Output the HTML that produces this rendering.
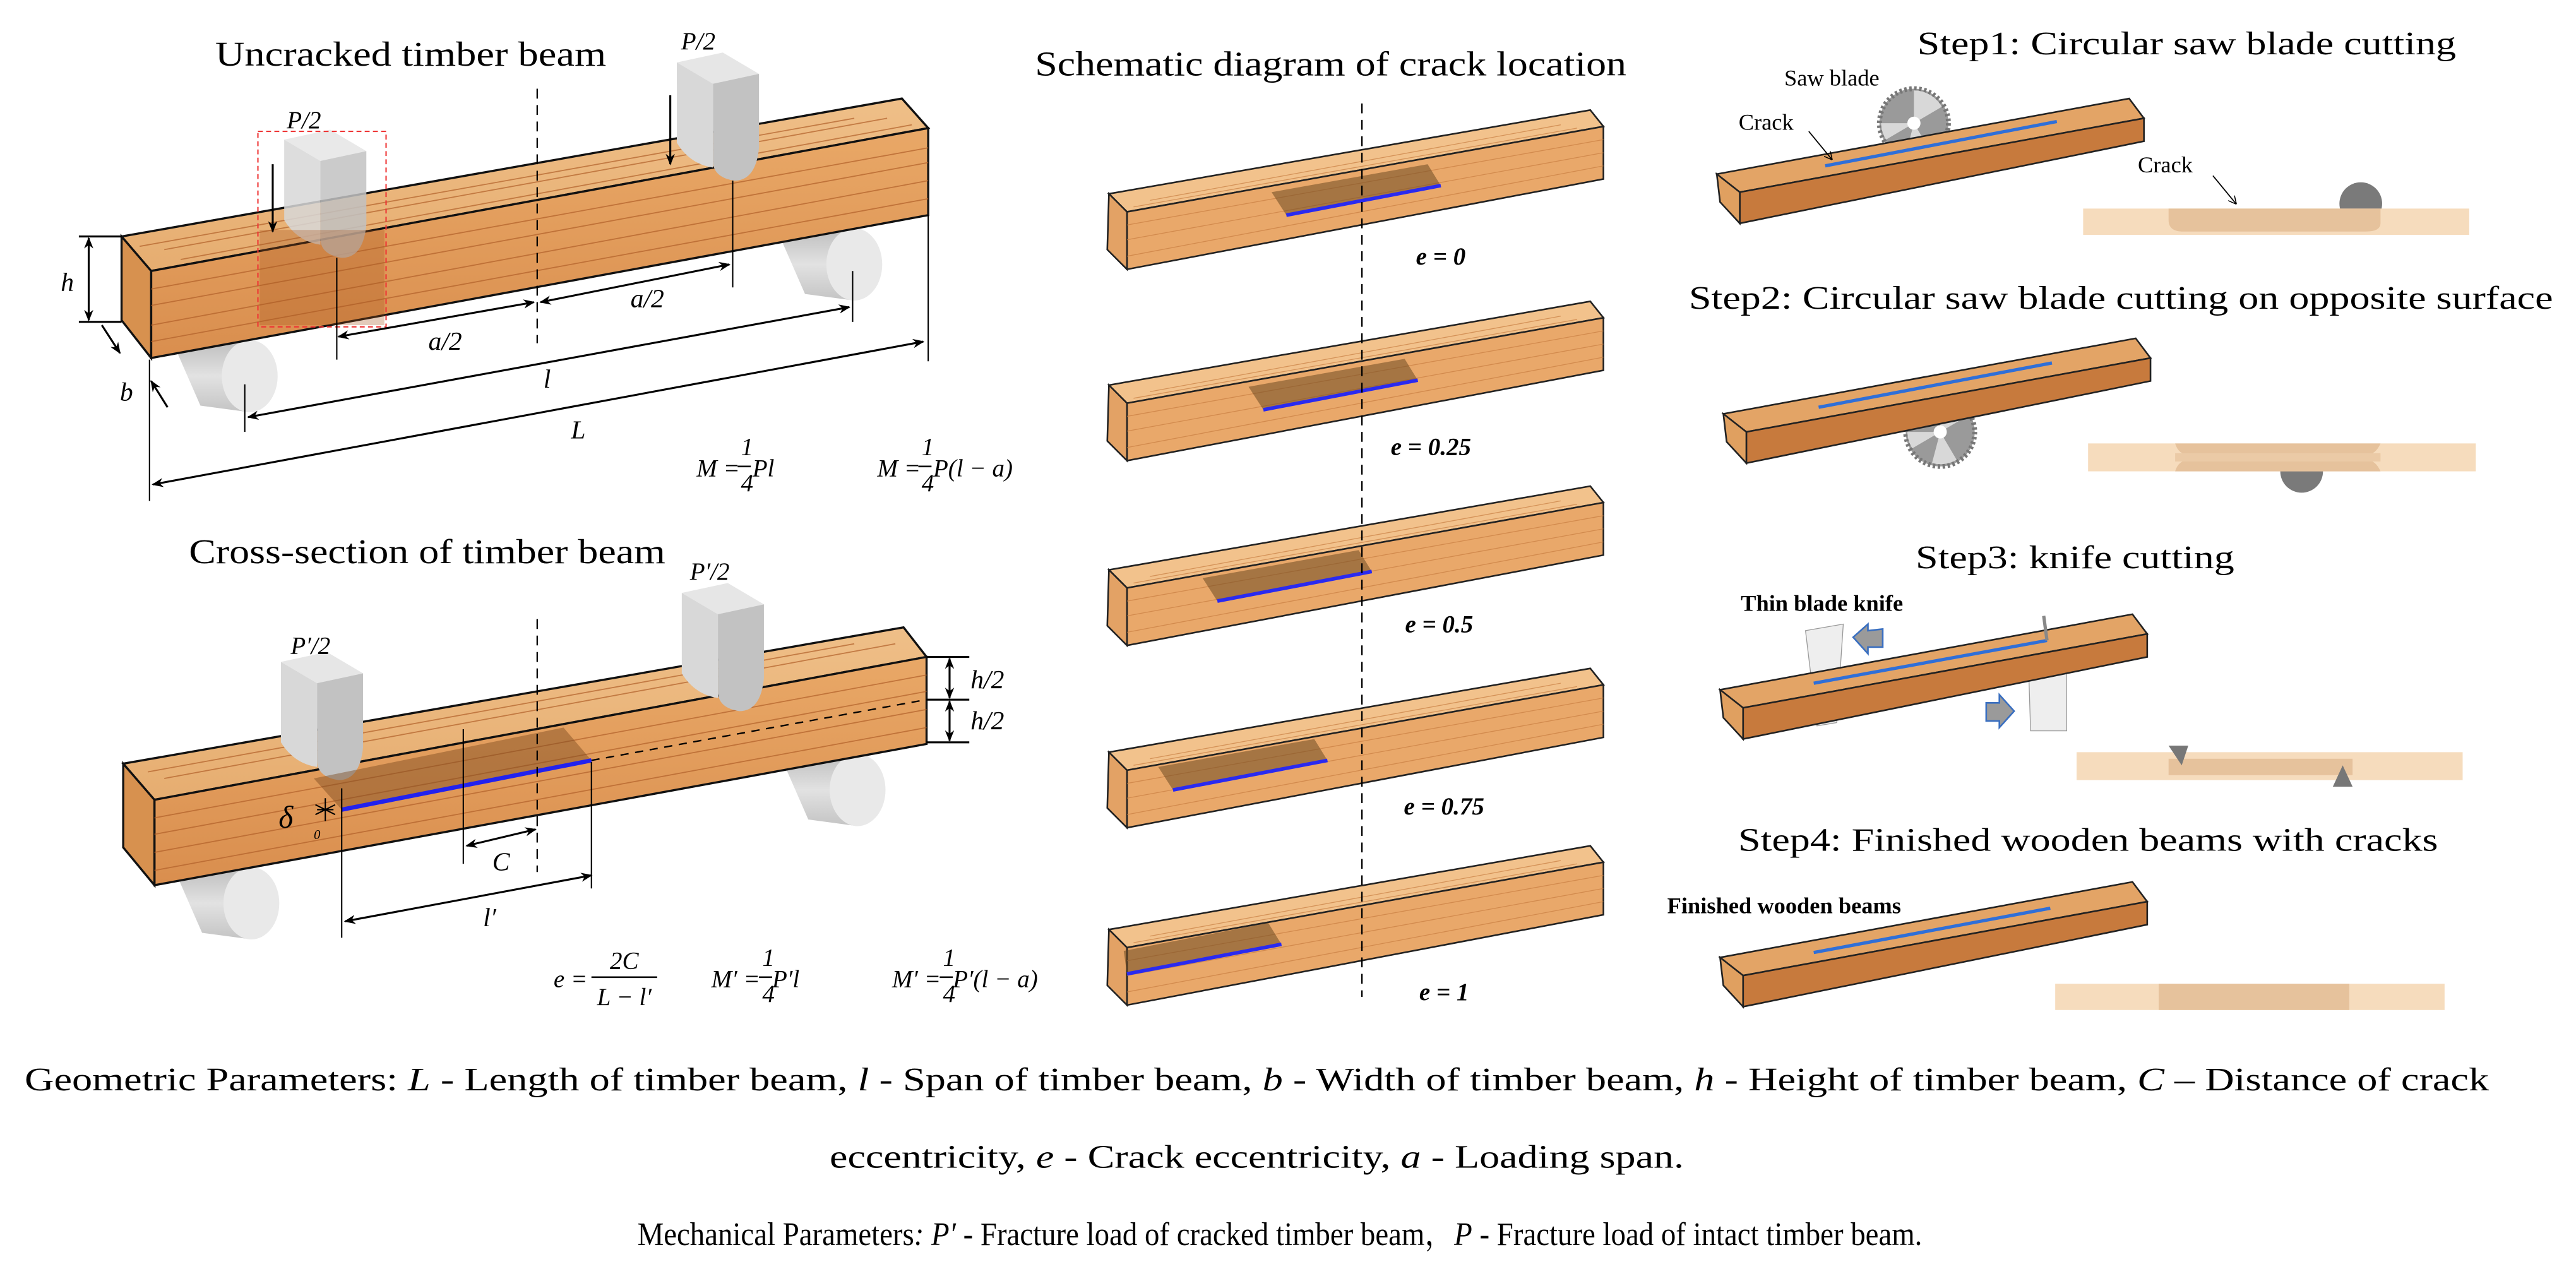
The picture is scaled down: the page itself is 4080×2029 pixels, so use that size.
<!DOCTYPE html>
<html><head><meta charset="utf-8"><style>
html,body{margin:0;padding:0;background:#fff;}
svg{display:block}
.it{font-style:italic}
</style></head><body>
<svg width="4080" height="2029" viewBox="0 0 1568 780" preserveAspectRatio="none" xmlns="http://www.w3.org/2000/svg">
<defs>
<marker id="ar" viewBox="0 0 10 10" refX="9" refY="5" markerWidth="7" markerHeight="7" orient="auto-start-reverse" markerUnits="userSpaceOnUse"><path d="M0,1 L10,5 L0,9 L3,5 Z" fill="#000"/></marker>
<marker id="ars" viewBox="0 0 10 10" refX="9" refY="5" markerWidth="5" markerHeight="5" orient="auto-start-reverse" markerUnits="userSpaceOnUse"><path d="M0,0 L10,5 L0,10" fill="none" stroke="#000" stroke-width="1.2"/></marker>
<linearGradient id="front" x1="0" y1="0" x2="0" y2="1"><stop offset="0" stop-color="#e9a867"/><stop offset="1" stop-color="#d98e4e"/></linearGradient>
<linearGradient id="topf" x1="0" y1="0" x2="0" y2="1"><stop offset="0" stop-color="#efbf88"/><stop offset="1" stop-color="#e6ad70"/></linearGradient>
<linearGradient id="cylg" x1="0" y1="0" x2="0" y2="1"><stop offset="0" stop-color="#bdbdbd"/><stop offset=".5" stop-color="#e2e2e2"/><stop offset="1" stop-color="#c4c4c4"/></linearGradient>
<g id="head">
 <path d="M0,6 L28,0 L50,13 L22,19 Z" fill="#e6e6e6"/>
 <path d="M0,6 L22,19 L22,70 Q8,68 0,55 Z" fill="#d8d8d8"/>
 <path d="M22,19 L50,13 L50,58 Q48,78 35,78 Q22,76 22,66 Z" fill="#c2c2c2"/>
</g>
<g id="cyl">
 <path d="M0,8 L38,0 L44,44 L14,40 Z" fill="url(#cylg)"/>
 <ellipse cx="44" cy="22" rx="17" ry="22" fill="#e9e9e9"/>
</g>
<g id="saw">
 <circle r="21" fill="#9a9a9a" stroke="#777" stroke-width="3" stroke-dasharray="1.5 1.5"/>
 <path d="M0,0 L0,-20 A20,20 0 0 1 17,-10 Z M0,0 L-17,10 A20,20 0 0 1 -20,0 Z M0,0 L10,17 A20,20 0 0 1 -5,19 Z" fill="#d8d8d8"/>
 <circle r="4" fill="#fff"/>
</g>
<g id="mbeam">
 <polygon points="675,118 968,67 976,77 686,129" fill="#f2c28c" stroke="#222" stroke-width="1"/>
 <polygon points="686,129 976,77 976,109 686,164" fill="#e9a86a" stroke="#222" stroke-width="1"/>
 <polygon points="675,118 686,129 686,164 674,152" fill="#e3a265" stroke="#222" stroke-width="1"/>
 <g stroke="#c77d42" stroke-width=".5" opacity=".7" fill="none">
  <path d="M686,137 L976,85 M686,146 L976,93 M686,156 L976,101 M690,126 L960,78 M700,122 L950,76"/>
 </g>
</g>
<g id="rbeam">
 <polygon points="1045,106 1296,60 1305,72 1059,117" fill="#e3a466" stroke="#222" stroke-width="1"/>
 <polygon points="1059,117 1305,72 1305,86 1059,136" fill="#c77a3d" stroke="#222" stroke-width="1"/>
 <polygon points="1045,106 1059,117 1059,136 1047,123" fill="#e0a060" stroke="#222" stroke-width="1"/>
</g>
</defs>

<!-- ========== TOP LEFT ========== -->
<text font-family="Liberation Serif, Noto Serif CJK SC, serif" x="250" y="40" font-size="21" text-anchor="middle" textLength="238" lengthAdjust="spacingAndGlyphs">Uncracked timber beam</text>
<use href="#cyl" transform="translate(108,207)"/>
<use href="#cyl" transform="translate(476,139)"/>
<polygon points="74,144 549,60 565,78 92,165" fill="url(#topf)" stroke="#111" stroke-width="1.3"/>
<polygon points="92,165 565,78 565,131 92,218" fill="url(#front)" stroke="#111" stroke-width="1.3"/>
<polygon points="74,144 92,165 92,218 74,195" fill="#d7914f" stroke="#111" stroke-width="1.3"/>
<g stroke="#b0602a" stroke-width=".7" fill="none" opacity=".7">
<path d="M92,176 L565,90 M92,186 L565,99 M92,198 L565,110 M92,208 L565,121 M100,152 L540,72 M110,158 L555,76 M85,150 L520,72"/>
</g>
<use href="#head" transform="translate(173,79)" opacity=".85"/>
<use href="#head" transform="translate(412,32)"/>
<rect x="158" y="140" width="76" height="58" fill="#a4521a" opacity=".3"/>
<rect x="157" y="80" width="78" height="119" fill="none" stroke="#e33" stroke-width=".8" stroke-dasharray="3 2"/>
<text font-family="Liberation Serif, Noto Serif CJK SC, serif" x="185" y="78" font-size="15" class="it" text-anchor="middle">P/2</text>
<text font-family="Liberation Serif, Noto Serif CJK SC, serif" x="425" y="30" font-size="15" class="it" text-anchor="middle">P/2</text>
<line x1="166" y1="100" x2="166" y2="141" stroke="#000" stroke-width="1.2" marker-end="url(#ar)"/>
<line x1="408" y1="58" x2="408" y2="100" stroke="#000" stroke-width="1.2" marker-end="url(#ar)"/>
<line x1="327" y1="54" x2="327" y2="209" stroke="#000" stroke-width=".9" stroke-dasharray="6 4"/>
<g stroke="#000" stroke-width=".8">
<line x1="205" y1="157" x2="205" y2="219"/><line x1="446" y1="110" x2="446" y2="175"/>
<line x1="519" y1="165" x2="519" y2="196"/><line x1="149" y1="234" x2="149" y2="263"/>
<line x1="91" y1="219" x2="91" y2="305"/><line x1="565" y1="131" x2="565" y2="220"/>
<line x1="48" y1="144" x2="74" y2="144" stroke-width="1.2"/><line x1="48" y1="196" x2="74" y2="196" stroke-width="1.2"/>
</g>
<g stroke="#000" stroke-width="1.2" fill="none">
<line x1="206" y1="205" x2="325" y2="184" marker-start="url(#ar)" marker-end="url(#ar)"/>
<line x1="329" y1="184" x2="444" y2="161" marker-start="url(#ar)" marker-end="url(#ar)"/>
<line x1="151" y1="254" x2="517" y2="187" marker-start="url(#ar)" marker-end="url(#ar)"/>
<line x1="93" y1="295" x2="562" y2="208" marker-start="url(#ar)" marker-end="url(#ar)"/>
<line x1="54" y1="145" x2="54" y2="195" marker-start="url(#ar)" marker-end="url(#ar)"/>
<line x1="62" y1="198" x2="73" y2="215" marker-end="url(#ar)"/>
<line x1="102" y1="248" x2="92" y2="232" marker-end="url(#ar)"/>
</g>
<g font-size="16">
<text font-family="Liberation Serif, Noto Serif CJK SC, serif" x="271" y="213" text-anchor="middle" class="it">a/2</text>
<text font-family="Liberation Serif, Noto Serif CJK SC, serif" x="394" y="187" text-anchor="middle" class="it">a/2</text>
<text font-family="Liberation Serif, Noto Serif CJK SC, serif" x="333" y="236" text-anchor="middle" class="it">l</text>
<text font-family="Liberation Serif, Noto Serif CJK SC, serif" x="352" y="267" text-anchor="middle" class="it">L</text>
<text font-family="Liberation Serif, Noto Serif CJK SC, serif" x="41" y="177" text-anchor="middle" class="it">h</text>
<text font-family="Liberation Serif, Noto Serif CJK SC, serif" x="77" y="244" text-anchor="middle" class="it">b</text>
</g>
<g font-size="15">
<text font-family="Liberation Serif, Noto Serif CJK SC, serif" x="424" y="290" class="it">M =</text><text font-family="Liberation Serif, Noto Serif CJK SC, serif" x="451" y="277" class="it">1</text><line x1="449" y1="284" x2="457" y2="284" stroke="#000"/><text font-family="Liberation Serif, Noto Serif CJK SC, serif" x="451" y="299" class="it">4</text><text font-family="Liberation Serif, Noto Serif CJK SC, serif" x="458" y="290" class="it">Pl</text>
<text font-family="Liberation Serif, Noto Serif CJK SC, serif" x="534" y="290" class="it">M =</text><text font-family="Liberation Serif, Noto Serif CJK SC, serif" x="561" y="277" class="it">1</text><line x1="559" y1="284" x2="567" y2="284" stroke="#000"/><text font-family="Liberation Serif, Noto Serif CJK SC, serif" x="561" y="299" class="it">4</text><text font-family="Liberation Serif, Noto Serif CJK SC, serif" x="568" y="290" class="it">P(l − a)</text>
</g>

<!-- ========== BOTTOM LEFT ========== -->
<text font-family="Liberation Serif, Noto Serif CJK SC, serif" x="260" y="343" font-size="21" text-anchor="middle" textLength="290" lengthAdjust="spacingAndGlyphs">Cross-section of timber beam</text>
<use href="#cyl" transform="translate(109,528)"/>
<use href="#cyl" transform="translate(478,459)"/>
<polygon points="75,465 550,382 564,400 94,487" fill="url(#topf)" stroke="#111" stroke-width="1.3"/>
<polygon points="94,487 564,400 564,453 94,539" fill="url(#front)" stroke="#111" stroke-width="1.3"/>
<polygon points="75,465 94,487 94,539 75,516" fill="#d7914f" stroke="#111" stroke-width="1.3"/>
<g stroke="#b0602a" stroke-width=".7" fill="none" opacity=".7">
<path d="M94,498 L564,411 M94,508 L564,421 M94,519 L564,432 M94,530 L564,443 M100,474 L545,392 M90,470 L520,392"/>
</g>
<use href="#head" transform="translate(171,397)"/>
<use href="#head" transform="translate(415,355)"/>
<polygon points="191,474 343,443 360,463 208,493" fill="#7a4a1e" opacity=".45"/>
<line x1="208" y1="493" x2="360" y2="463" stroke="#2222ee" stroke-width="2.6"/>
<line x1="360" y1="463" x2="564" y2="426" stroke="#000" stroke-width=".9" stroke-dasharray="5 4"/>
<text font-family="Liberation Serif, Noto Serif CJK SC, serif" x="189" y="398" font-size="15" class="it" text-anchor="middle">P′/2</text>
<text font-family="Liberation Serif, Noto Serif CJK SC, serif" x="432" y="353" font-size="15" class="it" text-anchor="middle">P′/2</text>
<line x1="327" y1="377" x2="327" y2="531" stroke="#000" stroke-width=".9" stroke-dasharray="6 4"/>
<g stroke="#000" stroke-width=".8">
<line x1="208" y1="480" x2="208" y2="571"/><line x1="282" y1="444" x2="282" y2="526"/><line x1="360" y1="464" x2="360" y2="541"/>
<line x1="564" y1="400" x2="590" y2="400" stroke-width="1.2"/><line x1="564" y1="426" x2="590" y2="426" stroke-width="1.2"/><line x1="564" y1="452" x2="590" y2="452" stroke-width="1.2"/>
<path d="M192,490 L204,496 M192,496 L204,490 M198,486 L198,500 M193,493 L203,493"/>
</g>
<g stroke="#000" stroke-width="1.2">
<line x1="578" y1="401" x2="578" y2="425" marker-start="url(#ar)" marker-end="url(#ar)"/>
<line x1="578" y1="427" x2="578" y2="451" marker-start="url(#ar)" marker-end="url(#ar)"/>
<line x1="284" y1="515" x2="326" y2="505" marker-start="url(#ar)" marker-end="url(#ar)"/>
<line x1="210" y1="561" x2="360" y2="533" marker-start="url(#ar)" marker-end="url(#ar)"/>
</g>
<text font-family="Liberation Serif, Noto Serif CJK SC, serif" x="601" y="419" font-size="16" class="it" text-anchor="middle">h/2</text>
<text font-family="Liberation Serif, Noto Serif CJK SC, serif" x="601" y="444" font-size="16" class="it" text-anchor="middle">h/2</text>
<text font-family="Liberation Serif, Noto Serif CJK SC, serif" x="305" y="530" font-size="16" class="it" text-anchor="middle">C</text>
<text font-family="Liberation Serif, Noto Serif CJK SC, serif" x="298" y="564" font-size="16" class="it" text-anchor="middle">l′</text>
<text font-family="Liberation Serif, Noto Serif CJK SC, serif" x="174" y="504" font-size="19" class="it" text-anchor="middle">δ</text>
<text font-family="Liberation Serif, Noto Serif CJK SC, serif" x="193" y="511" font-size="8" class="it" text-anchor="middle">0</text>
<g font-size="15">
<text font-family="Liberation Serif, Noto Serif CJK SC, serif" x="337" y="601" class="it">e =</text><text font-family="Liberation Serif, Noto Serif CJK SC, serif" x="380" y="590" class="it" text-anchor="middle">2C</text><line x1="360" y1="595" x2="400" y2="595" stroke="#000"/><text font-family="Liberation Serif, Noto Serif CJK SC, serif" x="380" y="612" class="it" text-anchor="middle">L − l′</text>
<text font-family="Liberation Serif, Noto Serif CJK SC, serif" x="433" y="601" class="it">M′ =</text><text font-family="Liberation Serif, Noto Serif CJK SC, serif" x="464" y="588" class="it">1</text><line x1="462" y1="595" x2="470" y2="595" stroke="#000"/><text font-family="Liberation Serif, Noto Serif CJK SC, serif" x="464" y="610" class="it">4</text><text font-family="Liberation Serif, Noto Serif CJK SC, serif" x="470" y="601" class="it">P′l</text>
<text font-family="Liberation Serif, Noto Serif CJK SC, serif" x="543" y="601" class="it">M′ =</text><text font-family="Liberation Serif, Noto Serif CJK SC, serif" x="574" y="588" class="it">1</text><line x1="572" y1="595" x2="580" y2="595" stroke="#000"/><text font-family="Liberation Serif, Noto Serif CJK SC, serif" x="574" y="610" class="it">4</text><text font-family="Liberation Serif, Noto Serif CJK SC, serif" x="580" y="601" class="it">P′(l − a)</text>
</g>

<!-- ========== MIDDLE ========== -->
<text font-family="Liberation Serif, Noto Serif CJK SC, serif" x="810" y="46" font-size="21" text-anchor="middle" textLength="360" lengthAdjust="spacingAndGlyphs">Schematic diagram of crack location</text>
<g>
<use href="#mbeam"/>
<use href="#mbeam" transform="translate(0,116.5)"/>
<use href="#mbeam" transform="translate(0,229)"/>
<use href="#mbeam" transform="translate(0,340)"/>
<use href="#mbeam" transform="translate(0,448)"/>
</g>
<g><polygon points="774,117 869,100 877,113 783,131" fill="#6e4a22" opacity=".55"/><line x1="783" y1="131" x2="877" y2="113" stroke="#2a2af0" stroke-width="2.2"/></g>
<g transform="translate(-14,118.5)"><polygon points="774,117 869,100 877,113 783,131" fill="#6e4a22" opacity=".55"/><line x1="783" y1="131" x2="877" y2="113" stroke="#2a2af0" stroke-width="2.2"/></g>
<g transform="translate(-42,235)"><polygon points="774,117 869,100 877,113 783,131" fill="#6e4a22" opacity=".55"/><line x1="783" y1="131" x2="877" y2="113" stroke="#2a2af0" stroke-width="2.2"/></g>
<g transform="translate(-69,350)"><polygon points="774,117 869,100 877,113 783,131" fill="#6e4a22" opacity=".55"/><line x1="783" y1="131" x2="877" y2="113" stroke="#2a2af0" stroke-width="2.2"/></g>
<g transform="translate(-97,462)"><polygon points="781,117 869,100 877,113 783,131" fill="#6e4a22" opacity=".55"/><line x1="783" y1="131" x2="877" y2="113" stroke="#2a2af0" stroke-width="2.2"/></g>
<line x1="829" y1="63" x2="829" y2="607" stroke="#000" stroke-width=".9" stroke-dasharray="6 4"/>
<g font-size="15" font-weight="bold">
<text font-family="Liberation Serif, Noto Serif CJK SC, serif" x="877" y="161" text-anchor="middle" class="it">e = 0</text>
<text font-family="Liberation Serif, Noto Serif CJK SC, serif" x="871" y="277" text-anchor="middle" class="it">e = 0.25</text>
<text font-family="Liberation Serif, Noto Serif CJK SC, serif" x="876" y="385" text-anchor="middle" class="it">e = 0.5</text>
<text font-family="Liberation Serif, Noto Serif CJK SC, serif" x="879" y="496" text-anchor="middle" class="it">e = 0.75</text>
<text font-family="Liberation Serif, Noto Serif CJK SC, serif" x="879" y="609" text-anchor="middle" class="it">e = 1</text>
</g>

<!-- ========== RIGHT ========== -->
<text font-family="Liberation Serif, Noto Serif CJK SC, serif" x="1331" y="33" font-size="20" text-anchor="middle" textLength="328" lengthAdjust="spacingAndGlyphs">Step1: Circular saw blade cutting</text>
<use href="#saw" transform="translate(1165,75)"/>
<use href="#rbeam"/>
<line x1="1111" y1="101" x2="1252" y2="74" stroke="#2f6fd8" stroke-width="2"/>
<text font-family="Liberation Serif, Noto Serif CJK SC, serif" x="1115" y="52" font-size="14" text-anchor="middle">Saw blade</text>
<text font-family="Liberation Serif, Noto Serif CJK SC, serif" x="1075" y="79" font-size="14" text-anchor="middle">Crack</text>
<line x1="1101" y1="80" x2="1115" y2="97" stroke="#000" stroke-width=".7" marker-end="url(#ars)"/>
<circle cx="1437" cy="124" r="13" fill="#7a7a7a"/>
<rect x="1268" y="127" width="235" height="16" fill="#f6dcbd"/>
<path d="M1320,127 L1449,127 L1449,136 Q1449,141 1440,141 L1329,141 Q1320,141 1320,134 Z" fill="#e6c29c"/>
<text font-family="Liberation Serif, Noto Serif CJK SC, serif" x="1318" y="105" font-size="14" text-anchor="middle">Crack</text>
<line x1="1347" y1="107" x2="1361" y2="124" stroke="#000" stroke-width=".7" marker-end="url(#ars)"/>

<text font-family="Liberation Serif, Noto Serif CJK SC, serif" x="1291" y="188" font-size="20" text-anchor="middle" textLength="526" lengthAdjust="spacingAndGlyphs">Step2: Circular saw blade cutting on opposite surface</text>
<use href="#saw" transform="translate(1181,263)"/>
<use href="#rbeam" transform="translate(4,146)"/>
<line x1="1107" y1="248" x2="1249" y2="221" stroke="#2f6fd8" stroke-width="2"/>
<circle cx="1401" cy="287" r="13" fill="#7a7a7a"/>
<rect x="1271" y="270" width="236" height="17" fill="#f6dcbd"/>
<path d="M1324,270 L1449,270 Q1446,277 1440,277 L1333,277 Q1326,277 1324,270 Z M1324,287 Q1326,280 1333,280 L1440,280 Q1446,280 1449,287 Z" fill="#e6c29c"/>
<rect x="1324" y="276" width="125" height="5" fill="#ebcaa6"/>

<text font-family="Liberation Serif, Noto Serif CJK SC, serif" x="1263" y="346" font-size="20" text-anchor="middle" textLength="194" lengthAdjust="spacingAndGlyphs">Step3: knife cutting</text>
<text font-family="Liberation Serif, Noto Serif CJK SC, serif" x="1109" y="372" font-size="14" text-anchor="middle" font-weight="bold">Thin blade knife</text>
<polygon points="1099,384 1122,380 1118,440 1106,442" fill="#eeeeee" stroke="#999" stroke-width=".5"/>
<polygon points="1235,413 1258,410 1258,445 1236,445" fill="#eeeeee" stroke="#999" stroke-width=".5"/>
<use href="#rbeam" transform="translate(2,314)"/>
<line x1="1104" y1="416" x2="1246" y2="390" stroke="#2f6fd8" stroke-width="2"/>
<line x1="1246" y1="390" x2="1244" y2="375" stroke="#888" stroke-width="2"/>
<polygon points="1128,388 1137,380 1137,384 1146,383 1146,394 1137,394 1137,398" fill="#9a9a9a" stroke="#3a6fc0" stroke-width="1"/>
<polygon points="1226,433 1217,443 1217,439 1209,439 1209,428 1217,428 1217,423" fill="#9a9a9a" stroke="#3a6fc0" stroke-width="1"/>
<rect x="1264" y="458" width="235" height="17" fill="#f6dcbd"/>
<rect x="1320" y="462" width="112" height="10" fill="#e6c29c"/>
<polygon points="1320,454 1332,454 1328,466" fill="#777"/>
<polygon points="1426,466 1432,479 1420,479" fill="#777"/>

<text font-family="Liberation Serif, Noto Serif CJK SC, serif" x="1271" y="518" font-size="20" text-anchor="middle" textLength="426" lengthAdjust="spacingAndGlyphs">Step4: Finished wooden beams with cracks</text>
<text font-family="Liberation Serif, Noto Serif CJK SC, serif" x="1086" y="556" font-size="14" text-anchor="middle" font-weight="bold">Finished wooden beams</text>
<use href="#rbeam" transform="translate(2,477)"/>
<line x1="1104" y1="580" x2="1248" y2="553" stroke="#2f6fd8" stroke-width="2"/>
<rect x="1251" y="599" width="237" height="16" fill="#f6dcbd"/>
<rect x="1314" y="599" width="116" height="16" fill="#e6c29c"/>

<!-- ========== BOTTOM TEXT ========== -->
<text font-family="Liberation Serif, Noto Serif CJK SC, serif" x="15" y="664" font-size="20" textLength="1500" lengthAdjust="spacingAndGlyphs">Geometric Parameters: <tspan class="it">L</tspan> - Length of timber beam, <tspan class="it">l</tspan> - Span of timber beam, <tspan class="it">b</tspan> - Width of timber beam, <tspan class="it">h</tspan> - Height of timber beam, <tspan class="it">C</tspan> – Distance of crack</text>
<text font-family="Liberation Serif, Noto Serif CJK SC, serif" x="505" y="711" font-size="20" textLength="520" lengthAdjust="spacingAndGlyphs">eccentricity, <tspan class="it">e</tspan> - Crack eccentricity, <tspan class="it">a</tspan> - Loading span.</text>
<text font-family="Liberation Serif, Noto Serif CJK SC, serif" x="388" y="758" font-size="20" textLength="782" lengthAdjust="spacingAndGlyphs">Mechanical Parameters<tspan class="it">: P′</tspan> - Fracture load of cracked timber beam，<tspan class="it">P</tspan> - Fracture load of intact timber beam.</text>
</svg>
</body></html>
